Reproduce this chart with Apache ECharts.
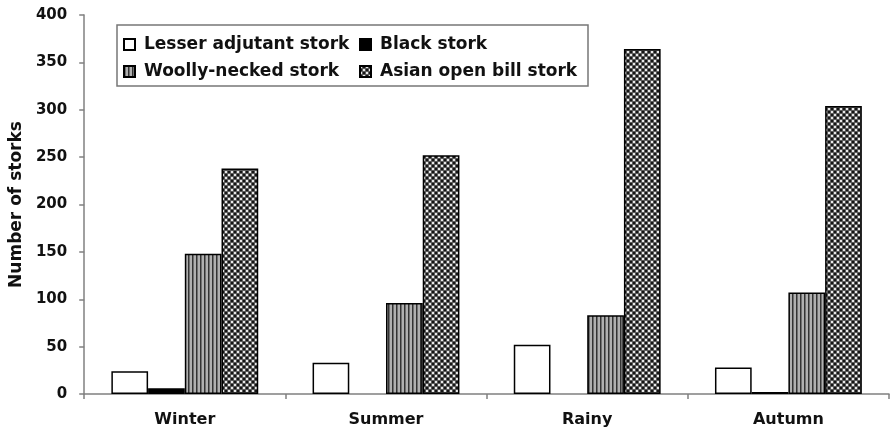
<!DOCTYPE html>
<html>
<head>
<meta charset="utf-8">
<script src="https://cdn.jsdelivr.net/npm/echarts@6/dist/echarts.min.js"></script>
<style>
  html, body { margin: 0; padding: 0; background: #fff; }
  #chart { width: 891px; height: 440px; }
</style>
</head>
<body>
<div id="chart"></div>
<script>
// seasons on the x axis
const seasons = ['Winter', 'Summer', 'Rainy', 'Autumn'];
const yTicks = [0, 50, 100, 150, 200, 250, 300, 350, 400];

// counts
const lesserAdjutant = [24, 33, 52, 28];
const blackStork = [6, 0, 0, 2];
const woollyNecked = [148, 96, 83, 107];
const asianOpenBill = [238, 252, 364, 304];

const FONT = 'DejaVu Sans';

// zero counts get no bar at all (no outline)
const noZero = arr => arr.map(v => (v === 0 ? '-' : v));

// vertical stripes
function stripePattern() {
  const c = document.createElement('canvas');
  c.width = 4; c.height = 4;
  const g = c.getContext('2d');
  g.fillStyle = '#b0b0b0';
  g.fillRect(0, 0, 4, 4);
  g.fillStyle = '#333';
  g.fillRect(0, 0, 1, 4);
  g.fillStyle = '#707070';
  g.fillRect(1, 0, 1, 4);
  return c;
}

// dotted checker
function dotPattern() {
  const c = document.createElement('canvas');
  c.width = 6; c.height = 6;
  const g = c.getContext('2d');
  g.fillStyle = '#5a5a5a';
  g.fillRect(0, 0, 6, 6);
  g.fillStyle = '#e8e8e8';
  g.fillRect(0, 0, 2, 2);
  g.fillRect(3, 3, 2, 2);
  g.fillStyle = '#151515';
  g.fillRect(3, 0, 2, 2);
  g.fillRect(0, 3, 2, 2);
  return c;
}

const chart = echarts.init(document.getElementById('chart'));

const barBorder = { borderColor: '#000', borderWidth: 1.5 };

const legendText = {
  fontFamily: FONT, fontWeight: 'bold', fontSize: 17, color: '#111',
  padding: [0, 0, 0, 4]
};

chart.setOption({
  animation: false,
  backgroundColor: '#fff',
  grid: { left: 83, right: 2, top: 15, bottom: 46 },
  graphic: [{
    type: 'rect',
    shape: { x: 117, y: 25, width: 471, height: 61 },
    style: { fill: 'none', stroke: '#777', lineWidth: 1.5 },
    z: 10
  }],
  legend: [
    {
      orient: 'vertical',
      left: 118, top: 31,
      icon: 'rect',
      itemWidth: 11, itemHeight: 11, itemGap: 10,
      textStyle: legendText,
      data: ['Lesser adjutant stork', 'Woolly-necked stork']
    },
    {
      orient: 'vertical',
      left: 354, top: 31,
      icon: 'rect',
      itemWidth: 11, itemHeight: 11, itemGap: 10,
      textStyle: legendText,
      data: ['Black stork', 'Asian open bill stork']
    }
  ],
  xAxis: {
    type: 'category',
    data: seasons,
    axisLine: { lineStyle: { color: '#808080', width: 1.5 } },
    axisTick: { show: true, length: 5, lineStyle: { color: '#808080', width: 1.5 } },
    axisLabel: { fontFamily: FONT, fontWeight: 'bold', fontSize: 16, color: '#111', margin: 18 }
  },
  yAxis: {
    type: 'value',
    min: yTicks[0],
    max: yTicks[yTicks.length - 1],
    interval: 50,
    name: 'Number of storks',
    nameLocation: 'middle',
    nameGap: 58,
    nameTextStyle: { fontFamily: FONT, fontWeight: 'bold', fontSize: 17, color: '#111' },
    axisLine: { show: true, lineStyle: { color: '#808080', width: 1.5 } },
    axisTick: { show: true, length: 5, lineStyle: { color: '#808080', width: 1.5 } },
    splitLine: { show: false },
    axisLabel: { fontFamily: FONT, fontWeight: 'bold', fontSize: 15, color: '#111', margin: 17 }
  },
  series: [
    {
      name: 'Lesser adjutant stork', type: 'bar', data: noZero(lesserAdjutant),
      barGap: 0, barCategoryGap: '27%',
      itemStyle: Object.assign({ color: '#fff' }, barBorder)
    },
    {
      name: 'Black stork', type: 'bar', data: noZero(blackStork),
      itemStyle: Object.assign({ color: '#000' }, barBorder)
    },
    {
      name: 'Woolly-necked stork', type: 'bar', data: noZero(woollyNecked),
      itemStyle: Object.assign({ color: { image: stripePattern(), repeat: 'repeat' } }, barBorder)
    },
    {
      name: 'Asian open bill stork', type: 'bar', data: noZero(asianOpenBill),
      itemStyle: Object.assign({ color: { image: dotPattern(), repeat: 'repeat' } }, barBorder)
    }
  ]
});
</script>
</body>
</html>
